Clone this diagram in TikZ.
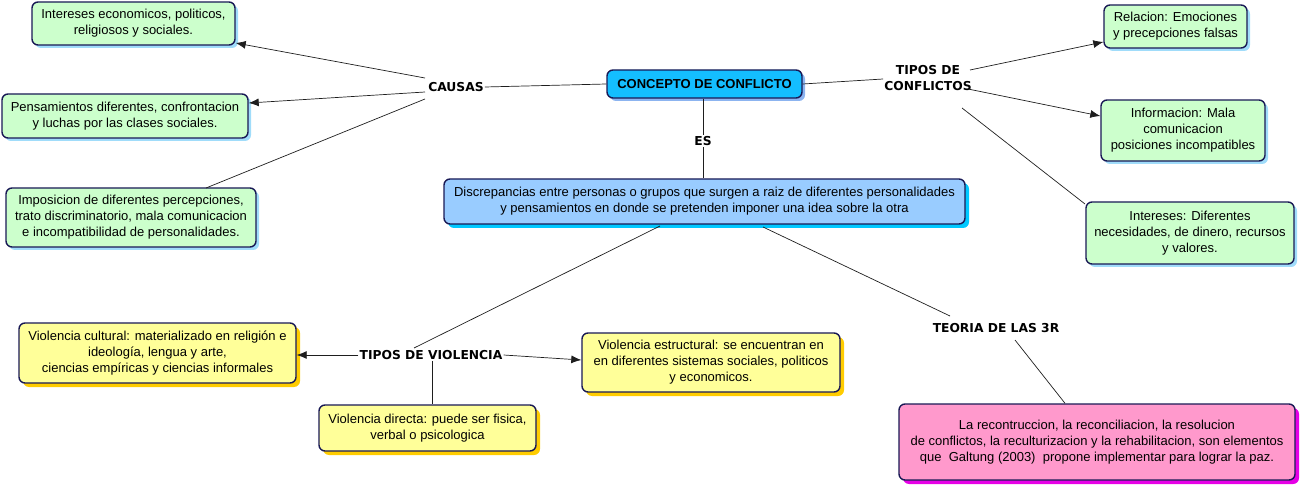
\documentclass[tikz,border=0pt]{standalone}
\usepackage{fontspec}
\setmainfont{Liberation Sans}
\newfontfamily\lblfont{DejaVu Sans}
\usetikzlibrary{shadows,arrows.meta}
\definecolor{navy}{RGB}{25,25,85}
\definecolor{gfill}{RGB}{204,255,204}
\definecolor{gshad}{RGB}{160,220,250}
\definecolor{cfill}{RGB}{20,190,255}
\definecolor{cshad}{RGB}{140,180,240}
\definecolor{dfill}{RGB}{153,204,255}
\definecolor{dshad}{RGB}{0,200,255}
\definecolor{yfill}{RGB}{255,255,153}
\definecolor{yshad}{RGB}{255,204,0}
\definecolor{pfill}{RGB}{255,153,204}
\definecolor{pshad}{RGB}{230,0,230}
\definecolor{lnc}{RGB}{30,30,30}
\begin{document}
\begin{tikzpicture}[x=1pt,y=-1pt,
  box/.style={draw=navy, line width=1.4pt, rounded corners=6pt, align=center,
    inner sep=0pt, font=\fontsize{13}{16}\selectfont, text=black},
  gbox/.style={box, fill=gfill, drop shadow={shadow xshift=3pt, shadow yshift=-3pt, fill=gshad, opacity=1}},
  ybox/.style={box, fill=yfill, drop shadow={shadow xshift=4pt, shadow yshift=-4pt, fill=yshad, opacity=1}},
  lbl/.style={font=\lblfont\bfseries\fontsize{12.3}{16}\selectfont, inner sep=1pt, align=center},
  ln/.style={draw=lnc, line width=0.7pt},
  arr/.style={ln, -{Latex[length=10pt,width=8pt]}}
]
\useasboundingbox (0,0) rectangle (1301,486);

\node[gbox, minimum width=203pt, minimum height=43pt] (int1) at (133.5,23.5)
  {Intereses economicos, politicos,\\religiosos y sociales.};
\node[gbox, minimum width=246pt, minimum height=44pt] (pens) at (125,116)
  {Pensamientos diferentes, confrontacion\\y luchas por las clases sociales.};
\node[gbox, minimum width=250pt, minimum height=59pt] (impo) at (131,217.5)
  {Imposicion de diferentes percepciones,\\trato discriminatorio, mala comunicacion\\e incompatibilidad de personalidades.};

\node[box, fill=cfill, minimum width=195pt, minimum height=28pt,
  font=\bfseries\fontsize{13}{15}\selectfont,
  drop shadow={shadow xshift=3pt, shadow yshift=-3pt, fill=cshad, opacity=1}] (conc) at (704.5,84)
  {CONCEPTO DE CONFLICTO};
\node[box, fill=dfill, minimum width=521pt, minimum height=45pt,
  drop shadow={shadow xshift=4pt, shadow yshift=-4pt, fill=dshad, opacity=1}] (disc) at (704.5,201.5)
  {Discrepancias entre personas o grupos que surgen a raiz de diferentes personalidades\\y pensamientos en donde se pretenden imponer una idea sobre la otra};

\node[gbox, minimum width=143pt, minimum height=43pt] (rel) at (1175.5,26.5)
  {Relacion: Emociones\\y precepciones falsas};
\node[gbox, minimum width=164pt, minimum height=61pt] (info) at (1183,130.5)
  {Informacion: Mala\\comunicacion\\posiciones incompatibles};
\node[gbox, minimum width=208pt, minimum height=62pt] (intd) at (1190,233)
  {Intereses: Diferentes\\necesidades, de dinero, recursos\\y valores.};

\node[ybox, minimum width=277pt, minimum height=60pt] (vcul) at (157.5,353)
  {Violencia cultural: materializado en religión e\\ideología, lengua y arte,\\ ciencias empíricas y ciencias informales};
\node[ybox, minimum width=217pt, minimum height=46pt] (vdir) at (427.5,428)
  {Violencia directa: puede ser fisica,\\verbal o psicologica};
\node[ybox, minimum width=258pt, minimum height=59pt] (vest) at (711,362.5)
  {Violencia estructural: se encuentran en\\en diferentes sistemas sociales, politicos\\y economicos.};

\node[box, fill=pfill, minimum width=396pt, minimum height=76pt,
  drop shadow={shadow xshift=4pt, shadow yshift=-4pt, fill=pshad, opacity=1}] (teo) at (1097,442)
  {La recontruccion, la reconciliacion, la resolucion\\ de conflictos, la reculturizacion y la rehabilitacion, son elementos\\que\ \ Galtung (2003)\ \ propone implementar para lograr la paz.};

\node[lbl] (causas) at (456,87) {CAUSAS};
\node[lbl] (es) at (703,141) {ES};
\node[lbl] (tconf) at (928,78) {TIPOS DE\\CONFLICTOS};
\node[lbl] (tviol) at (431,355) {TIPOS DE VIOLENCIA};
\node[lbl] (t3r) at (996,328) {TEORIA DE LAS 3R};

\coordinate (cA) at (425,78);
\coordinate (cB) at (425,92);
\coordinate (cC) at (425,99);
\draw[ln] (conc.west) -- (causas.east);
\draw[arr] (cA) -- (int1.south east |- 0,43);
\draw[arr] (cB) -- (pens.east |- 0,103);
\draw[ln] (cC) -- (206,188);

\draw[ln] (conc.south -| es) -- (es.north);
\draw[ln] (es.south) -- (disc.north -| es);

\coordinate (tA) at (970,70);
\coordinate (tB) at (968,89);
\coordinate (tC) at (962,108);
\draw[ln] (conc.east) -- (tconf.west |- 0,79);
\draw[arr] (tA) -- (rel.west |- 0,42);
\draw[arr] (tB) -- (info.west |- 0,116);
\draw[ln] (tC) -- (1085,204);

\coordinate (dA) at (660,226);
\coordinate (dB) at (763,227);
\coordinate (vA) at (414,348);
\draw[ln] (dA) -- (vA);
\draw[arr] (tviol.west) -- (vcul.east |- tviol);
\draw[arr] (tviol.east) -- (vest.west |- 0,360);
\draw[ln] (tviol.south -| 432,0) -- (vdir.north -| 432,0);

\draw[ln] (dB) -- (950,316);
\draw[ln] (1015,340) -- (teo.north -| 1065,0);
\end{tikzpicture}
\end{document}
